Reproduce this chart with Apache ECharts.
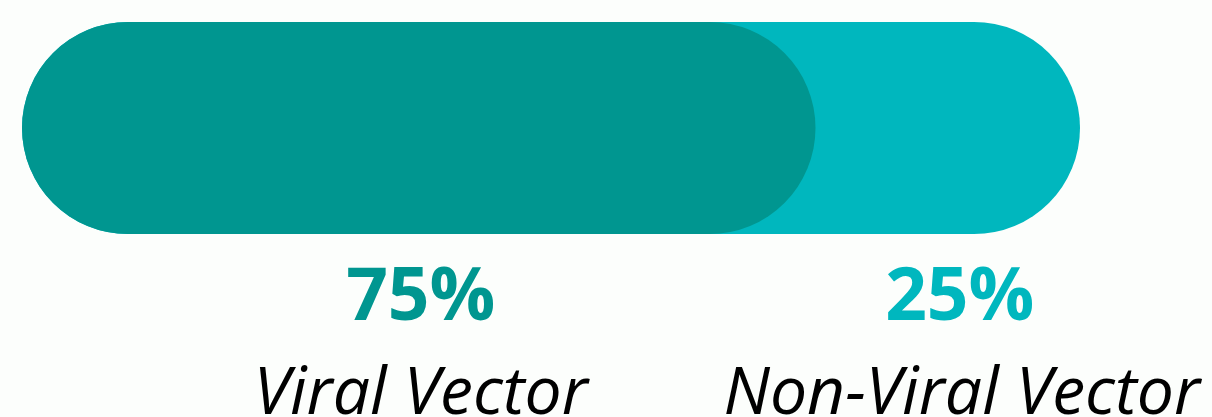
<!DOCTYPE html>
<html>
<head>
<meta charset="utf-8">
<script src="https://cdn.jsdelivr.net/npm/echarts@6/dist/echarts.min.js"></script>
<style>
html,body{margin:0;padding:0;background:#fcfefc;}
#c{width:1212px;height:417px;}
</style>
</head>
<body>
<div id="c"></div>
<script>
var categories = ['Viral Vector', 'Non-Viral Vector'];
var shares = [75, 25];
var colors = ['#009690', '#00b7be'];
var total = shares[0] + shares[1];

var chart = echarts.init(document.getElementById('c'), null, {renderer: 'canvas'});

// midpoints of each segment along the value axis
var mids = [shares[0] / 2, shares[0] + shares[1] / 2];

chart.setOption({
  backgroundColor: '#fcfefc',
  animation: false,
  grid: {left: 22, right: 132, top: 22, height: 212},
  xAxis: {type: 'value', min: 0, max: total, show: false},
  yAxis: {type: 'category', data: ['share'], show: false},
  series: [
    {
      type: 'bar', data: [total], barWidth: 212, barGap: '-100%',
      itemStyle: {color: colors[1], borderRadius: 106}, silent: true, z: 1
    },
    {
      type: 'bar', data: [shares[0]], barWidth: 212, barGap: '-100%',
      itemStyle: {color: colors[0], borderRadius: 106}, silent: true, z: 2
    },
    {
      type: 'scatter', symbolSize: 0, silent: true, z: 3,
      itemStyle: {opacity: 1},
      data: shares.map(function (s, i) {
        return {value: [mids[i], 'share'], label: {color: colors[i], offset: [i === 0 ? 2 : 12, 171]}};
      }),
      label: {
        show: true, position: 'inside', opacity: 1,
        formatter: function (p) { return shares[p.dataIndex] + '%'; },
        fontFamily: 'Open Sans', fontWeight: 'bold', fontSize: 73
      }
    },
    {
      type: 'scatter', symbolSize: 0, silent: true, z: 3,
      itemStyle: {opacity: 1},
      data: categories.map(function (c, i) {
        return {value: [mids[i], 'share'], label: {offset: [i === 0 ? 2 : 14, 267]}};
      }),
      label: {
        show: true, position: 'inside', color: '#000000', opacity: 1,
        formatter: function (p) { return categories[p.dataIndex]; },
        fontFamily: 'Open Sans', fontStyle: 'italic', fontSize: 66
      }
    }
  ]
});
</script>
</body>
</html>
